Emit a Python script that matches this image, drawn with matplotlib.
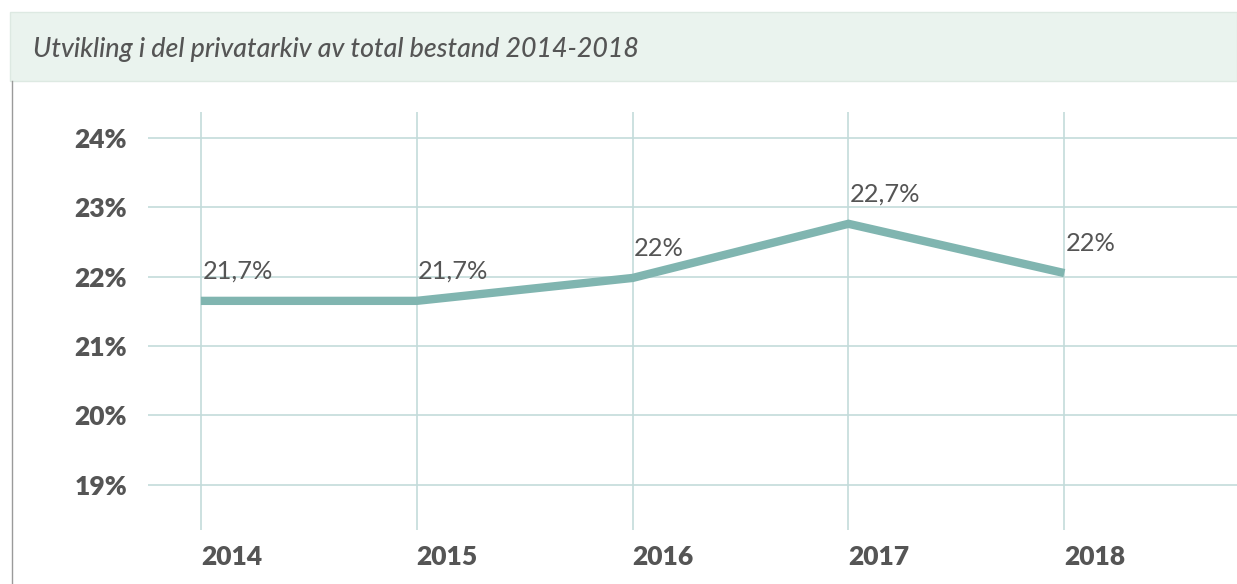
import matplotlib.pyplot as plt
from matplotlib.patches import Rectangle
from matplotlib.lines import Line2D

years = [2014, 2015, 2016, 2017, 2018]
share = [21.65, 21.65, 21.98, 22.76, 22.05]
value_labels = ["21,7%", "21,7%", "22%", "22,7%", "22%"]
y_ticks = [19, 20, 21, 22, 23, 24]
y_tick_labels = ["19%", "20%", "21%", "22%", "23%", "24%"]

W, H = 1237, 584
fig = plt.figure(figsize=(W / 100, H / 100), dpi=100)
plt.rcParams['font.family'] = ['Lato', 'DejaVu Sans']

text_col = "#555555"
grid_col = "#c3dbda"
line_col = "#80b5b0"

# title box
fig.patches.append(Rectangle((10 / W, 1 - 81 / H), (W - 10) / W, 69 / H,
                             transform=fig.transFigure, facecolor="#eaf3ee",
                             edgecolor="#dde9e2", linewidth=1))
fig.lines.append(Line2D([12 / W, 12 / W], [0, 1 - 81 / H], transform=fig.transFigure,
                        color="#9a9a9a", linewidth=1))
fig.text(33 / W, 1 - 49 / H, "Utvikling i del privatarkiv av total bestand 2014-2018",
         fontsize=19.3, style="italic", fontweight="medium", color=text_col,
         va="center", ha="left")

ax = fig.add_axes([148 / W, 54 / H, (W - 148) / W, 418 / H])
ax.set_xlim(2013.755, 2018.8)
ax.set_ylim(18.35, 24.37)

for y in y_ticks:
    ax.axhline(y, color=grid_col, linewidth=1.2, zorder=1)
ax.vlines(years, 18.35, 24.37, color=grid_col, linewidth=1.2, zorder=1)

ax.plot(years, share, color=line_col, linewidth=6, solid_capstyle="butt",
        solid_joinstyle="miter", zorder=3)

for x, y, lab in zip(years, share, value_labels):
    ax.annotate(lab, (x, y), xytext=(1, 13), textcoords="offset points",
                ha="left", va="bottom", fontsize=18.3, color=text_col)

for s in ax.spines.values():
    s.set_visible(False)
ax.tick_params(length=0)
ax.set_yticks(y_ticks)
ax.set_yticklabels(y_tick_labels, fontsize=19, fontweight="heavy", color=text_col)
ax.tick_params(axis="y", pad=15)
ax.set_xticks(years)
ax.set_xticklabels([str(y) for y in years], fontsize=19, fontweight="heavy",
                   color=text_col, ha="left")
ax.tick_params(axis="x", pad=11)

fig.savefig("out.png", dpi=100)
